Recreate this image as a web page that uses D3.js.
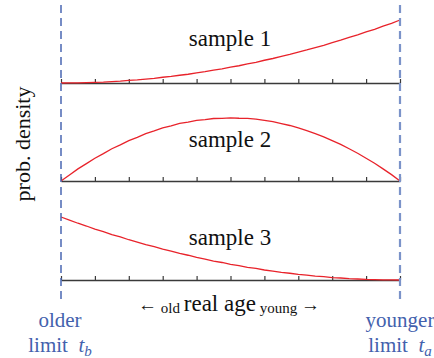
<!DOCTYPE html>
<html>
<head>
<meta charset="utf-8">
<script src="https://cdn.jsdelivr.net/npm/d3@7"></script>
<style>
  body { margin: 0; background: #fff; }
  text { font-family: "Liberation Serif", "Times New Roman", serif; }
</style>
</head>
<body>
<div id="chart"></div>
<script>
// relative age positions (0 = older limit, 1 = younger limit)
var ages = d3.range(41).map(function(i) { return i / 40; });
var tickAges = [0, 0.1, 0.2, 0.3, 0.4, 0.5, 0.6, 0.7, 0.8, 0.9, 1];

// probability density (scaled so each panel max = 1)
var sample1 = [0.000,0.002,0.003,0.006,0.011,0.015,0.023,0.030,0.041,0.050,0.063,0.075,0.091,0.104,0.123,0.139,0.161,0.180,0.203,0.224,0.251,0.274,0.303,0.329,0.361,0.389,0.424,0.454,0.491,0.524,0.563,0.599,0.641,0.679,0.723,0.764,0.811,0.853,0.903,0.946,1.000];
var sample2 = [0.000,0.095,0.192,0.275,0.362,0.435,0.512,0.574,0.642,0.694,0.752,0.795,0.843,0.874,0.913,0.934,0.963,0.975,0.992,0.994,1.003,0.996,0.993,0.981,0.961,0.941,0.911,0.881,0.842,0.801,0.752,0.701,0.641,0.581,0.512,0.441,0.362,0.281,0.192,0.101,0.000];
var sample3 = [1.000,0.952,0.901,0.857,0.809,0.768,0.721,0.683,0.639,0.603,0.561,0.528,0.489,0.458,0.421,0.393,0.358,0.333,0.301,0.278,0.249,0.228,0.201,0.183,0.159,0.142,0.121,0.107,0.089,0.077,0.061,0.052,0.039,0.032,0.021,0.016,0.009,0.006,0.002,0.001,0.000];
var sampleNames = ["sample 1", "sample 2", "sample 3"];

var panels = [
  {name: sampleNames[0], values: sample1, base: 83, labelY: 46},
  {name: sampleNames[1], values: sample2, base: 181, labelY: 147},
  {name: sampleNames[2], values: sample3, base: 280, labelY: 245}
];

var W = 434, H = 358,
    blue = "#4361ad",
    red = "#e8232b",
    serif = "'Liberation Serif', 'Times New Roman', serif";

var svg = d3.select("#chart").append("svg")
    .attr("width", W).attr("height", H)
    .attr("font-family", serif);

// shared x scale: older limit at left, younger limit at right
var x = d3.scaleLinear().domain([0, 1]).range([61, 400]);
var panelHeight = 63;

panels.forEach(function(p) {
  var y = d3.scaleLinear().domain([0, 1]).range([p.base, p.base - panelHeight]);
  var g = svg.append("g");

  // baseline with small ticks pointing up
  g.append("g")
      .attr("transform", "translate(0," + p.base + ")")
      .call(d3.axisTop(x).tickValues(tickAges).tickSizeInner(4).tickSizeOuter(0).tickFormat(""))
      .call(function(a) {
        a.select(".domain").attr("stroke", "#3a3a3a").attr("stroke-width", 1.6);
        a.selectAll(".tick line").attr("stroke", "#3a3a3a").attr("stroke-width", 1.2);
      });

  var line = d3.line()
      .x(function(d, i) { return x(ages[i]); })
      .y(function(d) { return y(d); });

  g.append("path")
      .datum(p.values)
      .attr("d", line)
      .attr("fill", "none")
      .attr("stroke", red)
      .attr("stroke-width", 1.3);

  g.append("text")
      .attr("x", 230)
      .attr("y", p.labelY)
      .attr("text-anchor", "middle")
      .attr("font-family", serif)
      .attr("font-size", 23)
      .attr("fill", "#111")
      .text(p.name);
});

// dashed limit lines
[0, 1].forEach(function(v, i) {
  svg.append("line")
      .attr("x1", x(v)).attr("x2", x(v))
      .attr("y1", 5).attr("y2", 300)
      .attr("stroke", i === 0 ? "#4a67b3" : "#7b93c9")
      .attr("stroke-width", i === 0 ? 1.5 : 2.2)
      .attr("stroke-dasharray", "8,5");
});

// y axis title
svg.append("text")
    .attr("transform", "translate(30,144) rotate(-90)")
    .attr("text-anchor", "middle")
    .attr("font-family", serif)
    .attr("font-size", 22)
    .attr("fill", "#111")
    .text("prob. density");

// x axis title
var xt = svg.append("text")
    .attr("x", 229)
    .attr("y", 311)
    .attr("text-anchor", "middle")
    .attr("font-family", serif)
    .attr("fill", "#111")
    .attr("font-size", 23);
xt.append("tspan").attr("font-size", 19).text("\u2190");
xt.append("tspan").attr("font-size", 15).attr("dy", 2).text(" old ");
xt.append("tspan").attr("dy", -2).text("real age");
xt.append("tspan").attr("font-size", 15).attr("dy", 2).text(" young ");
xt.append("tspan").attr("font-size", 19).attr("dy", -2).text("\u2192");

// limit labels
function limitLabel(cx, word, sub) {
  var g = svg.append("g").attr("fill", blue).attr("font-size", 21);
  g.append("text").attr("x", cx).attr("y", 327).attr("text-anchor", "middle")
      .attr("font-family", serif).text(word);
  var t = g.append("text").attr("x", cx).attr("y", 352).attr("text-anchor", "middle")
      .attr("font-family", serif);
  t.append("tspan").text("limit\u00a0\u00a0");
  t.append("tspan").attr("font-style", "italic").text("t");
  t.append("tspan").attr("font-style", "italic").attr("font-size", 15).attr("dy", 4).text(sub);
}
limitLabel(60, "older", "b");
limitLabel(400, "younger", "a");
</script>
</body>
</html>
